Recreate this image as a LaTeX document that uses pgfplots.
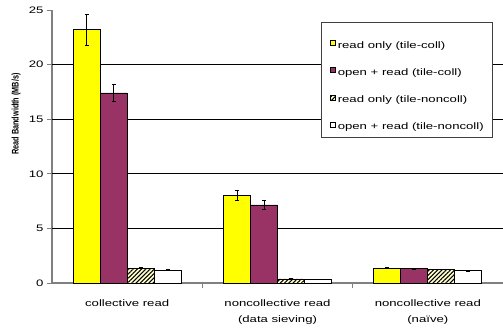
\documentclass[border=0pt]{standalone}
\usepackage{fontspec}
\setmainfont{Liberation Sans}
\usepackage{graphicx}
\usepackage{pgfplots}
\pgfplotsset{compat=1.18}
\usetikzlibrary{patterns.meta}

\definecolor{barYellow}{HTML}{FFFF00}
\definecolor{barPlum}{HTML}{993366}
\definecolor{hatchBg}{HTML}{FFFFCC}
\definecolor{axisGray}{HTML}{808080}

\newcommand{\chartfont}{\fontsize{9.4bp}{16bp}\selectfont}
% horizontal text is set wide, the rotated axis title narrow
\newcommand{\wide}[1]{\scalebox{1.4}[1]{#1}}

\pgfplotsset{
  errs/.style={
    error bars/.cd,
      y dir=both, y explicit,
      error bar style={black, line width=0.8bp},
      error mark options={black, mark size=2bp, line width=0.8bp, rotate=90},
  },
  sq legend/.style={
    legend image code/.code={\draw[##1, line width=0.7bp] (0bp,-0.15bp) rectangle (5bp,4.85bp);}},
  % first legend row carries the extra space under the frame
  sq legend first/.style={
    legend image code/.code={\path (0bp,16.85bp);
      \draw[##1, line width=0.7bp] (0bp,-0.15bp) rectangle (5bp,4.85bp);}},
}

\begin{document}
\begin{tikzpicture}
\begin{axis}[
  name=main,
  scale only axis,
  width=451bp, height=273bp,
  xmin=-0.5, xmax=2.5,
  ymin=0, ymax=25,
  ybar=0pt, bar width=27bp,
  axis x line*=bottom, axis y line*=left,
  axis line style={draw=axisGray, line width=1.4bp},
  tick style={draw=axisGray, line width=1bp},
  tick align=outside,
  major tick length=5bp,
  ytick={0,5,10,15,20,25},
  yticklabel={\wide{\pgfmathprintnumber{\tick}}},
  /pgf/number format/assume math mode=true,
  every tick label/.append style={font=\chartfont},
  % group boundaries carry the visible x ticks
  xtick={0.5,1.5},
  xticklabels={},
  extra x ticks={0,1,2},
  extra x tick labels={{\wide{collective read}},
    {\wide{noncollective read}\\\wide{(data sieving)}},
    {\wide{noncollective read}\\\wide{(na\"ive)}}},
  extra x tick style={major tick length=0pt},
  xticklabel style={align=center, yshift=-13bp},
  % horizontal grid lines between 0 and 25
  extra y ticks={5,10,15,20},
  extra y tick labels={},
  extra y tick style={grid=major, major tick length=0pt,
    major grid style={draw=black, line width=0.9bp}},
  ylabel={\scalebox{0.76}[1]{\bfseries\fontsize{9.6bp}{11bp}\selectfont Read Bandwidth (MB/s)}},
  every axis y label/.style={
    at={(axis description cs:-0.0794,0.619)},
    rotate=90, anchor=center},
  legend cell align=left,
  legend style={
    at={(axis description cs:0.597,0.956)}, anchor=north west,
    draw=black!75, line width=0.9bp, fill=white,
    inner xsep=8.7bp, inner ysep=5.7bp,
    row sep=17.9bp, column sep=1.7bp,
    font=\chartfont,
    nodes={inner sep=0pt},
  },
]
\addplot[fill=barYellow, draw=black, line width=0.7bp, sq legend first, errs]
  coordinates {(0,23.2) +- (0,1.4) (1,8.05) +- (0,0.45) (2,1.37) +- (0,0.03)};
\addplot[fill=barPlum, draw=black, line width=0.7bp, sq legend, errs]
  coordinates {(0,17.4) +- (0,0.8) (1,7.15) +- (0,0.4) (2,1.31) +- (0,0.02)};
\addplot[fill=hatchBg, draw=black, line width=0.7bp,
  postaction={pattern={Lines[angle=45, distance=3bp, line width=1.1bp]}}, sq legend, errs]
  coordinates {(0,1.37) +- (0,0.04) (1,0.38) +- (0,0.02) (2,1.25) +- (0,0.02)};
\addplot[fill=white, draw=black, line width=0.7bp, sq legend, errs]
  coordinates {(0,1.18) +- (0,0.03) (1,0.34) +- (0,0.02) (2,1.13) +- (0,0.03)};
\legend{\wide{read only (tile-coll)}, \wide{open + read (tile-coll)},
  \wide{read only (tile-noncoll)}, \wide{open + read (tile-noncoll)}}
\end{axis}
\pgfresetboundingbox
\path ([xshift=-52bp,yshift=-47bp]main.south west) rectangle ([yshift=10bp]main.north east);
\end{tikzpicture}
\end{document}
